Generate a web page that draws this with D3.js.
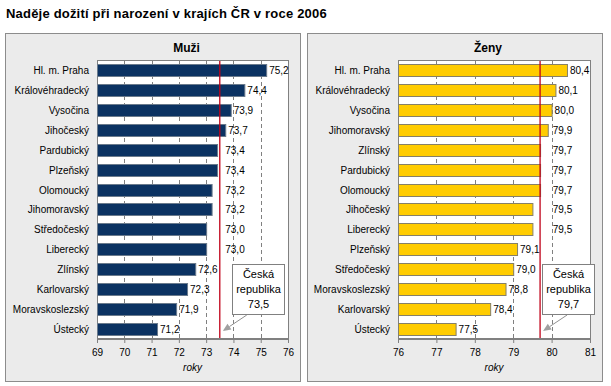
<!DOCTYPE html>
<html>
<head>
<meta charset="utf-8">
<script src="https://cdn.jsdelivr.net/npm/d3@7"></script>
<style>
  body { margin: 0; background: #fff; }
  svg { display: block; font-family: 'Liberation Sans', Arial, sans-serif; }
</style>
</head>
<body>
<div id="chart"></div>
<script>
// Data
const menRegions = ['Hl. m. Praha', 'Královéhradecký', 'Vysočina', 'Jihočeský', 'Pardubický', 'Plzeňský', 'Olomoucký', 'Jihomoravský', 'Středočeský', 'Liberecký', 'Zlínský', 'Karlovarský', 'Moravskoslezský', 'Ústecký'];
const menValues = [75.2, 74.4, 73.9, 73.7, 73.4, 73.4, 73.2, 73.2, 73.0, 73.0, 72.6, 72.3, 71.9, 71.2];
const menCzech = 73.5;
const menTicks = [69, 70, 71, 72, 73, 74, 75, 76];

const womenRegions = ['Hl. m. Praha', 'Královéhradecký', 'Vysočina', 'Jihomoravský', 'Zlínský', 'Pardubický', 'Olomoucký', 'Jihočeský', 'Liberecký', 'Plzeňský', 'Středočeský', 'Moravskoslezský', 'Karlovarský', 'Ústecký'];
const womenValues = [80.4, 80.1, 80.0, 79.9, 79.7, 79.7, 79.7, 79.5, 79.5, 79.1, 79.0, 78.8, 78.4, 77.5];
const womenCzech = 79.7;
const womenTicks = [76, 77, 78, 79, 80, 81];

const chartTitle = 'Naděje dožití při narození v krajích ČR v roce 2006';
const axisTitle = 'roky';

const W = 611, H = 386;
const fmt = (v) => d3.format('.1f')(v).replace('.', ',');

const svg = d3.select('#chart').append('svg')
  .attr('width', W)
  .attr('height', H);

// Main title
svg.append('text')
  .attr('x', 6)
  .attr('y', 18)
  .style('font-size', '13px')
  .style('font-weight', 'bold')
  .style('letter-spacing', '0.2px')
  .text(chartTitle);

function drawPanel(cfg) {
  const g = svg.append('g');

  // Panel frame
  g.append('rect')
    .attr('x', cfg.panelX + 0.5)
    .attr('y', 33.5)
    .attr('width', 295)
    .attr('height', 348)
    .attr('fill', '#ebebeb')
    .attr('stroke', '#8c8c8c');

  const x = d3.scaleLinear()
    .domain(d3.extent(cfg.ticks))
    .range([cfg.plotLeft, cfg.plotRight]);

  const y = d3.scaleBand()
    .domain(cfg.regions)
    .range([60, 339])
    .paddingInner(0.4)
    .paddingOuter(0.2);

  // Plot area
  g.append('rect')
    .attr('x', cfg.plotLeft + 0.5)
    .attr('y', 60.5)
    .attr('width', cfg.plotRight - cfg.plotLeft)
    .attr('height', 278)
    .attr('fill', '#fff')
    .attr('stroke', '#808080');

  // Panel title
  g.append('text')
    .attr('x', (cfg.plotLeft + cfg.plotRight) / 2 - 6)
    .attr('y', 52)
    .attr('text-anchor', 'middle')
    .style('font-size', '12px')
    .style('font-weight', 'bold')
    .text(cfg.title);

  // Dashed gridlines
  g.selectAll('.grid')
    .data(cfg.ticks.slice(1, -1))
    .enter()
    .append('line')
    .attr('x1', (d) => Math.round(x(d)) + 0.5)
    .attr('x2', (d) => Math.round(x(d)) + 0.5)
    .attr('y1', 61)
    .attr('y2', 338)
    .attr('stroke', '#808080')
    .attr('stroke-dasharray', '4,3');

  // Bars
  g.selectAll('.bar')
    .data(cfg.values)
    .enter()
    .append('rect')
    .attr('x', cfg.plotLeft + 0.5)
    .attr('y', (d, i) => Math.round(y(cfg.regions[i])) + 0.5)
    .attr('width', (d) => x(d) - cfg.plotLeft)
    .attr('height', Math.round(y.bandwidth()))
    .attr('fill', cfg.color)
    .attr('stroke', cfg.stroke);

  // Reference line (Czech republic)
  g.append('line')
    .attr('x1', x(cfg.czech))
    .attr('x2', x(cfg.czech))
    .attr('y1', 61)
    .attr('y2', 338)
    .attr('stroke', '#c00018')
    .attr('stroke-width', 1.3);

  // Value labels; the ones close to the red line are pushed past it
  g.selectAll('.val')
    .data(cfg.values)
    .enter()
    .append('text')
    .attr('x', (d) => d > cfg.czech - 0.55 ? Math.max(x(d) + 3, x(cfg.labelMin)) : x(d) + 3)
    .attr('y', (d, i) => y(cfg.regions[i]) + y.bandwidth() / 2 + 4)
    .style('font-size', '10px')
    .text((d) => fmt(d));

  // Category labels
  g.selectAll('.cat')
    .data(cfg.regions)
    .enter()
    .append('text')
    .attr('x', cfg.plotLeft - 8)
    .attr('y', (d) => y(d) + y.bandwidth() / 2 + 4)
    .attr('text-anchor', 'end')
    .style('font-size', '10px')
    .text((d) => d);

  // Bottom axis
  const axis = g.append('g')
    .attr('transform', 'translate(0,339)')
    .call(d3.axisBottom(x).tickValues(cfg.ticks).tickSize(4).tickPadding(6).tickFormat(d3.format('d')));
  axis.select('.domain').attr('stroke', '#808080');
  axis.selectAll('.tick line').attr('stroke', '#808080');
  axis.selectAll('.tick text')
    .style('font-size', '10px')
    .style('font-family', "'Liberation Sans', Arial, sans-serif")
    .attr('fill', '#000');

  g.append('text')
    .attr('x', (cfg.plotLeft + cfg.plotRight) / 2)
    .attr('y', 371)
    .attr('text-anchor', 'middle')
    .style('font-size', '10px')
    .style('font-style', 'italic')
    .text(axisTitle);

  // Callout box with arrow
  const bx = x(cfg.czech) + cfg.boxDx;
  const arrowStart = [x(cfg.czech) + 27, 315];
  const arrowTip = [x(cfg.czech) + 3, 331];
  const ang = Math.atan2(arrowTip[1] - arrowStart[1], arrowTip[0] - arrowStart[0]);
  const headLen = 8, headW = 3.5;
  const baseX = arrowTip[0] - headLen * Math.cos(ang);
  const baseY = arrowTip[1] - headLen * Math.sin(ang);
  g.append('line')
    .attr('x1', arrowStart[0])
    .attr('y1', arrowStart[1])
    .attr('x2', baseX)
    .attr('y2', baseY)
    .attr('stroke', '#909090');
  g.append('path')
    .attr('d', d3.line()([
      arrowTip,
      [baseX + headW * Math.sin(ang), baseY - headW * Math.cos(ang)],
      [baseX - headW * Math.sin(ang), baseY + headW * Math.cos(ang)],
    ]) + 'Z')
    .attr('fill', '#a0a0a0');

  g.append('rect')
    .attr('x', Math.round(bx) + 0.5)
    .attr('y', 264.5)
    .attr('width', 52)
    .attr('height', 50)
    .attr('fill', '#fff')
    .attr('stroke', '#808080');

  ['Česká', 'republika', fmt(cfg.czech)].forEach((t, i) => {
    g.append('text')
      .attr('x', Math.round(bx) + 26.5)
      .attr('y', 278 + i * 15)
      .attr('text-anchor', 'middle')
      .style('font-size', '11px')
      .text(t);
  });
}

drawPanel({
  title: 'Muži',
  regions: menRegions,
  values: menValues,
  czech: menCzech,
  ticks: menTicks,
  panelX: 5,
  plotLeft: 97,
  plotRight: 288,
  color: '#0b3262',
  stroke: '#6a7a8c',
  labelMin: 73.7,
  boxDx: 12,
});

drawPanel({
  title: 'Ženy',
  regions: womenRegions,
  values: womenValues,
  czech: womenCzech,
  ticks: womenTicks,
  panelX: 307,
  plotLeft: 398,
  plotRight: 590,
  color: '#ffcc00',
  stroke: '#858068',
  labelMin: 80.03,
  boxDx: 1.5,
});
</script>
</body>
</html>
